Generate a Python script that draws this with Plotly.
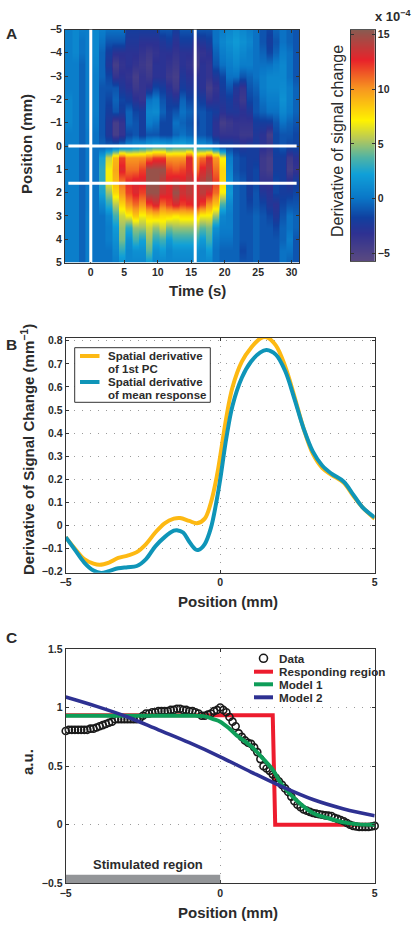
import plotly.graph_objects as go

W, H = 414, 925
FONT = "Liberation Sans"
INK = "#2b2b2b"

# ---------- Panel A data ----------
times = [-3.35 + i for i in range(35)]
positions = [-5 + 0.5 * i for i in range(21)]
heat = [
 [0.5,1,0.5,0.5,1,0.5,0,0,0,-2,-2,-2,-2,-2,-1,-1,-2,-1,-1,-1,-1,-1,0,0.5,1,1.5,1,0.5,0,-1,-1.5,-0.5,0,-0.5,-1],
 [0.5,1,0,0.5,1,0,-1,-1,-1,-2.5,-2.5,-3,-3,-3,-2.5,-2,-3,-2,-2,-3,-2.5,-2,0,1,1.5,2,1.5,1,0,-1,-2,-1,0,-0.5,-1],
 [0.5,1,0,0.5,1,-0.5,-2,-3,-3,-3,-3,-3.5,-4,-3.5,-3,-3,-3.5,-3,-3,-4,-3.5,-3,-0.5,0.5,1,1.5,1,0.5,0,-0.5,-1.5,-0.5,0.5,0,-1],
 [0.5,0.5,-0.5,0.5,0.8,-0.5,-2.5,-4.5,-3.5,-3,-3.5,-4,-4.5,-3,-3,-3.5,-4,-3,-3.5,-4.5,-3,-3.5,-1,0,0.5,1,0.5,0.5,0,0,0,0.5,1,0,-1],
 [0.5,0.5,-0.5,0.5,0.5,-0.5,-1.5,-3.5,-3,-3.5,-4.5,-3.5,-4,-3,-3,-4,-4.5,-2.5,-3,-3,-3,-3.5,-2.5,-1.5,0,0,-1,-0.5,0,0.5,1,1,1,0,-1],
 [0.5,0.5,-0.5,0.5,0.5,-1,-1,-1,-2.5,-3,-4,-3.5,-3,-1.5,-2,-3,-4,-2,-2.5,-2.5,-3,-4.5,-3.5,-2,-1,-2.5,-3.5,-1,-0.5,0.5,1,1,1.2,0.5,-0.5],
 [1,0.5,-0.5,0.5,0.5,-1,-1.5,-0.5,-1.5,-2,-3,-3.5,0,0.5,-1,-2,-2.5,-0.5,-1.5,-1.5,-2,-3.5,-3,-2.5,-2,-3,-4,-1.5,-1,0,0.5,0.5,1.5,0.5,-0.5],
 [1,0.5,-0.5,0.5,0.5,-1,-2,-1,-2,-0.5,-1.5,-2,1,1.2,-0.5,-1.5,-1,0,-0.5,-1,-1,-1.5,-2,-3,-2.5,-2.5,-3,-2.5,-1,-0.5,0,0,1,0.3,-0.5],
 [1,0.5,-0.5,0.5,0.3,-1,-2.5,-4.5,-3.5,-0.5,-1,-2,0.5,0,-1.5,-1.5,0,-0.5,-1,-1.5,-1,-1.5,-3,-4.5,-4,-3.5,-3.5,-3.5,-2,-2,-2,-1,0,-0.5,-1],
 [0.5,0.5,-0.5,0.3,0,-1,-2.5,-4.5,-3.5,-1.5,-1,-2,-1,-1,-1.5,-1.5,-0.5,0,-0.5,-1,-1,-1.5,-3,-3.5,-3.5,-3.5,-4,-4,-2.5,-3,-4.5,-1.5,-1,-1,-1.5],
 [0.5,0.5,-0.5,0.3,0,-0.5,-0.5,0,0.5,1,1.5,2,2.5,3,3,2.5,3,3,2.5,2,1.5,1,0,-1.5,-1.5,-2,-2.5,-2,-2,-3,-3.5,-1.5,-1,-1.5,-1.5],
 [0.5,0.5,-0.5,0.3,0,2.5,6,9,12,10,10,10,11,12,12,10,10,10,13,10,11,13,10,7,0.5,-1,-1.5,-2,-2,-4,-4.5,-2,-2,-4,-3],
 [0.5,0.5,-0.5,0.3,0,3,7,9.5,13,11,11,12,15,15,15,12,11.5,12,13,11,13,14,11,8,1,-1,-1.5,-2,-1.5,-4,-4.5,-2,-2,-4.5,-3.5],
 [0.5,0.5,-0.5,0.3,0,3,7,9,11,12.5,13,13,15,15,14,13,13.5,13,14,13,14,15,12,8,1.5,-0.5,-1,-2,-1.5,-3.5,-3.5,-1.5,-2,-3,-2],
 [0.5,0.5,-0.5,0.3,0,2.5,5,8,10,12,13,12,15,15,13.5,13,15,13.5,14,13,14,13,11,7,2,-0.5,-1,-2,-1,-2.5,-3,-1.5,-2,-2,-1.5],
 [0.5,0.5,-0.5,0.3,0,1,3,5.5,8,10,11,10,12,13,11,12,13,12,12.5,13,12,10,8.5,3.5,1,-0.5,-1,-1.5,-1,-1.5,-2.5,-3,-1.5,-1,-1],
 [0.5,0.5,-0.5,0.5,0,0,1,3.5,6,7,8.5,7,8,8.5,8,8,7.5,8,8,8,7,7,5,1,0.5,-0.5,-1,-1,-0.5,-1,-1.5,-2.5,-1,0,-0.5],
 [0.5,0.5,-0.5,0.5,0,0,0.5,2,5,3,5,5,6,5,6,4.5,5,5,5,5,4,4.5,1.5,0.5,0.5,-0.5,-1,-1,-0.5,-1,-1,-1.5,-0.5,0,-0.5],
 [0.5,0.5,-0.5,0.5,0,0,0.5,1.5,4.5,1.5,3.5,2.5,5,3,3.5,2,3,3,3,3,2,3.5,0.5,0,0,-0.5,-1,-1,-0.5,-1,-1,-1,-0.5,0.5,-1],
 [0.5,0.5,-0.5,0.5,0,0,0,1,3,1,1.5,1.5,4,1.5,2,1,1.5,1.5,1.5,1.5,1,2,0,-0.5,-0.5,-0.5,-1.5,-1,-0.5,-1,-1,-1,0,0,-1],
 [0.5,0.5,-0.5,0.5,0,0,0,0.5,1.5,1,1,1,2,1,1,1,1,1,1,1,1,1,0,-0.5,-0.5,-0.5,-1,-1,-0.5,-1,-1,-1,0,-0.5,-1],
]
colorscale = [
 [0.00,"#5b4a80"],[0.12,"#2e3192"],[0.19,"#1040a0"],[0.28,"#0a78c8"],[0.38,"#10a0d8"],
 [0.45,"#4fb3a5"],[0.53,"#b5c85a"],[0.61,"#fff200"],[0.75,"#f79420"],[0.87,"#e8232a"],[1.00,"#8a5a50"],
]
cbar_levels = [-5.7,-5,-4,-3,-2,-1,0,1,2,3,4,5,6,7,8,9,10,11,12,13,14,15,15.4]

# ---------- Panel B data ----------
bx_pc = [-5,-4.7,-4.4,-4.1,-3.9,-3.6,-3.3,-3,-2.7,-2.4,-2.1,-1.8,-1.5,-1.3,-1,-0.75,-0.5,-0.3,-0.1,0,0.2,0.4,0.7,1,1.3,1.5,1.8,2.1,2.4,2.7,3,3.3,3.6,4,4.3,4.6,5]
by_pc = [-0.05,-0.10,-0.145,-0.165,-0.17,-0.16,-0.14,-0.13,-0.115,-0.08,-0.03,0.01,0.03,0.033,0.02,0.01,0.03,0.10,0.22,0.30,0.47,0.60,0.71,0.77,0.81,0.815,0.78,0.69,0.56,0.42,0.31,0.25,0.22,0.185,0.13,0.08,0.03]
bx_mean = [-5,-4.7,-4.4,-4.1,-3.85,-3.6,-3.3,-3,-2.7,-2.4,-2.1,-1.8,-1.5,-1.4,-1.2,-1,-0.8,-0.7,-0.5,-0.3,-0.1,0,0.2,0.4,0.7,1,1.3,1.5,1.8,2.1,2.4,2.7,3,3.3,3.6,4,4.3,4.6,5]
by_mean = [-0.05,-0.105,-0.16,-0.195,-0.205,-0.197,-0.185,-0.18,-0.175,-0.145,-0.09,-0.05,-0.022,-0.02,-0.03,-0.07,-0.103,-0.105,-0.08,-0.01,0.12,0.20,0.38,0.52,0.64,0.71,0.75,0.76,0.74,0.67,0.55,0.42,0.32,0.26,0.225,0.19,0.135,0.08,0.035]
legend_b = [["Spatial derivative", "of 1st PC"], ["Spatial derivative", "of mean response"]]

# ---------- Panel C data ----------
cx_data = [round(-5 + 0.1 * i, 1) for i in range(101)]
cy_data = [0.80,0.81,0.81,0.81,0.81,0.81,0.81,0.81,0.82,0.82,0.83,0.84,0.85,0.86,0.87,0.88,0.90,0.90,0.90,0.90,
           0.90,0.90,0.90,0.90,0.91,0.93,0.95,0.95,0.96,0.96,0.97,0.97,0.97,0.97,0.98,0.98,0.99,0.99,0.98,0.98,
           0.97,0.97,0.96,0.95,0.93,0.93,0.94,0.95,0.97,0.98,1.00,0.98,0.96,0.92,0.88,0.84,0.78,0.75,0.72,0.70,
           0.69,0.66,0.62,0.56,0.50,0.48,0.46,0.43,0.40,0.37,0.34,0.31,0.28,0.24,0.20,0.17,0.15,0.13,0.12,0.11,
           0.10,0.095,0.09,0.085,0.08,0.078,0.075,0.06,0.05,0.04,0.03,0.015,0.0,-0.01,-0.015,-0.02,-0.02,-0.02,-0.02,-0.015,-0.01]
cx_red = [-5, 1.70, 1.78, 5]
cy_red = [0.935, 0.935, 0.0, 0.0]
cx_m1 = [-5,-3,-1,-0.5,-0.2,0,0.3,0.5,1,1.4,1.7,2,2.5,3,3.5,4,4.5,5]
cy_m1 = [0.93,0.93,0.93,0.925,0.90,0.88,0.82,0.77,0.67,0.56,0.47,0.34,0.20,0.10,0.055,0.02,0.003,0.0]
cx_m2 = [-5,-4,-3,-2,-1,0,1,2,3,4,5]
cy_m2 = [1.09,1.01,0.92,0.81,0.70,0.58,0.45,0.325,0.215,0.135,0.077]

legend_c = ["Data", "Responding region", "Model 1", "Model 2"]

ORANGE, TEAL = "#fdb913", "#0f95b8"
RED, GREEN, NAVY = "#ed1c2e", "#0e9d58", "#2e3192"

def fx(px): return px / W
def fy(py): return 1 - py / H

# every column is held across its own width, so the smoothing only softens column edges
x_cols = [t + d for t in times for d in (-0.38, 0.0, 0.38)]
z_cols = [[v for v in row for _ in range(3)] for row in heat]

fig = go.Figure()

fig.add_trace(go.Heatmap(x=x_cols, y=positions, z=z_cols, zmin=-5.7, zmax=15.4, zsmooth="best",
                         colorscale=colorscale, showscale=False, xaxis="x", yaxis="y"))
fig.add_trace(go.Heatmap(x=[0, 1], y=cbar_levels, z=[[v, v] for v in cbar_levels], zmin=-5.7, zmax=15.4,
                         zsmooth="best", colorscale=colorscale, showscale=False, xaxis="x4", yaxis="y4"))

def line(x, y, color, xa, ya, width=4, name=None, **kw):
    fig.add_trace(go.Scatter(x=x, y=y, mode="lines", name=name, showlegend=False,
                             line=dict(color=color, width=width, **kw), xaxis=xa, yaxis=ya))

line(bx_pc, by_pc, ORANGE, "x2", "y2", name=" ".join(legend_b[0]), shape="spline")
line(bx_mean, by_mean, TEAL, "x2", "y2", name=" ".join(legend_b[1]), shape="spline")

line(cx_red, cy_red, RED, "x3", "y3", name=legend_c[1])
fig.add_trace(go.Scatter(x=cx_data, y=cy_data, mode="markers", name=legend_c[0], showlegend=False, cliponaxis=False,
                         marker=dict(symbol="circle-open", size=7, color="#1a1a1a", line=dict(width=1.6, color="#1a1a1a")),
                         xaxis="x3", yaxis="y3"))
line(cx_m1, cy_m1, GREEN, "x3", "y3", name=legend_c[2], shape="spline")
line(cx_m2, cy_m2, NAVY, "x3", "y3", width=3.6, name=legend_c[3], shape="spline")

tick = dict(family=FONT, size=10.5, weight=700, color=INK)
ax = dict(showline=True, mirror="ticks", linecolor="#333", linewidth=1, ticks="inside", ticklen=3,
          tickcolor="#333", tickfont=tick, zeroline=False, showgrid=False)
GRID = dict(showgrid=True, gridcolor="#9a9a9a", gridwidth=1, griddash="1px,7px")

fig.update_layout(
    width=W, height=H, margin=dict(l=0, r=0, t=0, b=0, pad=0, autoexpand=False), paper_bgcolor="white", plot_bgcolor="white",
    showlegend=False,
    xaxis=dict(ax, domain=[fx(65), fx(299.3)], range=[-3.85, 31.15], tickvals=[0,5,10,15,20,25,30], anchor="y"),
    yaxis=dict(ax, domain=[fy(262.5), fy(29.5)], range=[5, -5], tickvals=list(range(-5,6)), anchor="x"),
    xaxis2=dict(ax, **GRID, domain=[fx(65.7), fx(374.7)], range=[-5, 5], tickvals=[-5,0,5], anchor="y2"),
    yaxis2=dict(ax, **GRID, domain=[fy(572.7), fy(338)], range=[-0.204, 0.812],
                tickvals=[-0.2,-0.1,0,0.1,0.2,0.3,0.4,0.5,0.6,0.7,0.8], ticktext=["−0.2","−0.1","0","0.1","0.2","0.3","0.4","0.5","0.6","0.7","0.8"], anchor="x2"),
    xaxis3=dict(ax, **GRID, domain=[fx(65.7), fx(374.7)], range=[-5, 5], tickvals=[-5,0,5], anchor="y3"),
    yaxis3=dict(ax, **GRID, domain=[fy(883.3), fy(649)], range=[-0.5, 1.5], tickvals=[-0.5,0,0.5,1,1.5],
                ticktext=["−0.5","0","0.5","1","1.5"], anchor="x3"),
    xaxis4=dict(domain=[fx(351), fx(374.7)], range=[0, 1], showticklabels=False, ticks="", showgrid=False,
                zeroline=False, showline=True, mirror=True, linecolor="#555", anchor="y4"),
    yaxis4=dict(ax, domain=[fy(261), fy(30)], range=[-5.7, 15.4], tickvals=[-5,0,5,10,15], ticktext=["−5","0","5","10","15"],
                side="right", anchor="x4"),
)

# white crosshair lines on the heat map
for t in [0, 15.6]:
    fig.add_shape(type="line", xref="x", yref="y", x0=t, x1=t, y0=-5, y1=5, line=dict(color="white", width=3))
for p in [0, 1.6]:
    fig.add_shape(type="line", xref="x", yref="y", x0=-3.35, x1=30.75, y0=p, y1=p, line=dict(color="white", width=3))

# stimulated region
fig.add_shape(type="rect", xref="x3", yref="y3", x0=-5, x1=0, y0=-0.5, y1=-0.427, fillcolor="#939598", line=dict(width=0))

def ann(text, x, y, size, angle=0, weight=700, anchor="center", color=INK):
    fig.add_annotation(text=text, x=fx(x), y=fy(y), xref="paper", yref="paper", showarrow=False,
                       xanchor=anchor, yanchor="middle", textangle=angle,
                       font=dict(family=FONT, size=size, weight=weight, color=color))

def swatch(x0, x1, y, color):
    fig.add_shape(type="line", xref="paper", yref="paper", x0=fx(x0), x1=fx(x1), y0=fy(y), y1=fy(y),
                  line=dict(color=color, width=4))

ann("A", 11, 34, 15.5)
ann("B", 11, 344, 15.5)
ann("C", 11, 637, 15.5)
ann("Time (s)", 197, 290, 15)
ann("Position (mm)", 27, 144, 15, angle=-90)
ann("Derivative of Signal Change (mm<sup>−1</sup>)", 27, 450, 15, angle=-90)
ann("Position (mm)", 228, 601, 15)
ann("Position (mm)", 228, 912, 15)
ann("a.u.", 27, 762, 15, angle=-90)
ann("Derivative of signal change", 337, 141, 16, angle=-90, weight=400)
ann("x 10<sup>−4</sup>", 393, 16, 13)
ann("Stimulated region", 148, 864, 13)

# legend of panel B
fig.add_shape(type="rect", xref="paper", yref="paper", x0=fx(74.7), x1=fx(210.3), y0=fy(402.3), y1=fy(347.7),
              fillcolor="white", line=dict(color="#333", width=1), layer="above")
for lines, y, color in zip(legend_b, [356, 382], [ORANGE, TEAL]):
    swatch(80, 99.5, y, color)
    ann(lines[0], 105.5, y, 11.5, anchor="left")
    ann(lines[1], 105.5, y + 13, 11.5, anchor="left")

# legend of panel C
rows = [658.3, 671.7, 684.3, 697.3]
for label, y in zip(legend_c, rows):
    ann(label, 277, y, 11.7, anchor="left")
fig.add_shape(type="circle", xref="paper", yref="paper", x0=fx(259.5), x1=fx(267.5), y0=fy(rows[0]+4), y1=fy(rows[0]-4),
              line=dict(color="#1a1a1a", width=1.6))
for color, y in zip([RED, GREEN, NAVY], rows[1:]):
    swatch(254, 273, y, color)

fig.write_html("out.html", config={"displayModeBar": False}, post_script="document.body.style.margin='0';")
